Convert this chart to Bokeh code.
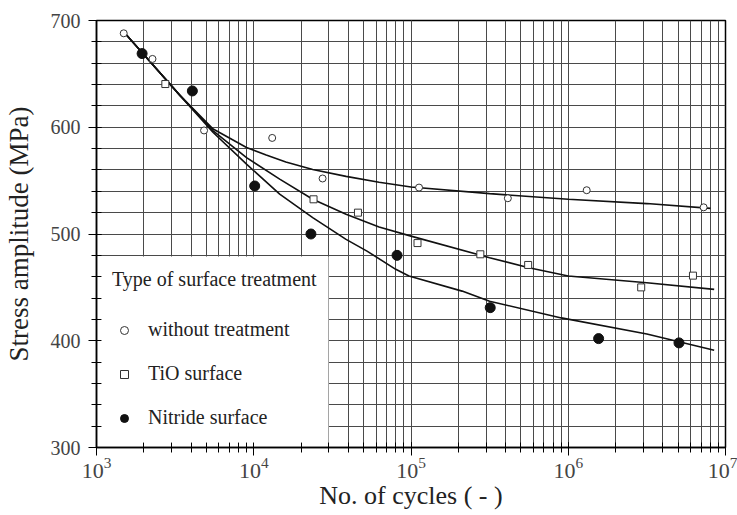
from bokeh.plotting import figure
from bokeh.models import (Range1d, LogTicker, SingleIntervalTicker, Legend, LegendItem,
                          BoxAnnotation)
from bokeh.embed import file_html
from bokeh.resources import INLINE

# ---------------- data ----------------
N_without = [1490, 2270, 4830, 13100, 27400, 112500, 413000, 1310000, 7260000]
S_without = [688, 664, 597, 590, 552, 543.5, 533.5, 541, 525]

N_tio = [2740, 24000, 46000, 110000, 276000, 556000, 2910000, 6210000]
S_tio = [640.5, 532.5, 520, 491.5, 481, 471, 450, 461]

N_nitride = [1950, 4070, 10140, 23100, 81500, 319000, 1560000, 5060000]
S_nitride = [669, 634, 545, 500, 480, 431, 402, 398]

# fitted curves
Nc_without = [1483, 3404, 5521, 8995, 12000, 16000, 23710, 38640, 62660, 100000, 316000,
              1000000, 3160000, 8035000]
Sc_without = [689.7, 629.6, 598.3, 581.0, 574.0, 567.5, 560.5, 554.0, 548.5, 544.0, 537.8,
              532.5, 528.5, 524.0]

Nc_tio = [1483, 3404, 5521, 8995, 14620, 23710, 38640, 62660, 100000, 316000,
          562000, 1000000, 3160000, 8472000]
Sc_tio = [689.7, 629.6, 596.7, 571.6, 551.4, 532.6, 518.5, 506.6, 498.0, 477.8,
          468.4, 460.6, 454.3, 448.1]

Nc_nitride = [1483, 3404, 5521, 8995, 14620, 23710, 38640, 52500, 80000, 97050,
              211300, 316000, 903600, 3160000, 8472000]
Sc_nitride = [689.7, 629.6, 595.1, 565.4, 537.3, 515.3, 495.0, 484.0, 466.9, 460.6,
              446.5, 437.0, 421.4, 406.4, 391.1]

labels = ["without treatment", "TiO surface", "Nitride surface"]
legend_title = "Type of surface treatment"
x_label = "No. of cycles ( - )"
y_label = "Stress amplitude (MPa)"

FONT = "Liberation Serif"
GRID = "#4a4a4a"

p = figure(x_axis_type="log", x_range=Range1d(1e3, 1e7), y_range=Range1d(300, 700),
           width=737, height=515,
           min_border_left=95, min_border_right=12, min_border_top=20, min_border_bottom=68,
           output_backend="svg", toolbar_location=None,
           background_fill_color="white", border_fill_color="white")

p.outline_line_color = "black"
p.outline_line_width = 1.5

# grids
p.xaxis.ticker = LogTicker(num_minor_ticks=10)
p.yaxis.ticker = SingleIntervalTicker(interval=100, num_minor_ticks=5)
p.xgrid.ticker = p.xaxis.ticker
p.ygrid.ticker = p.yaxis.ticker
for g in (p.xgrid, p.ygrid):
    g.grid_line_color = GRID
    g.grid_line_width = 1
    g.minor_grid_line_color = GRID
    g.minor_grid_line_width = 1

# axes
for ax in (p.xaxis, p.yaxis):
    ax.axis_line_color = "black"
    ax.axis_line_width = 1.5
    ax.major_tick_line_color = "black"
    ax.minor_tick_line_color = "black"
    ax.major_tick_in = 5
    ax.major_tick_out = 8
    ax.minor_tick_in = 5
    ax.minor_tick_out = 5
    ax.major_label_text_font = FONT
    ax.major_label_text_color = "#444444"
    ax.axis_label_text_font = FONT
    ax.axis_label_text_font_style = "normal"
    ax.axis_label_text_color = "#222222"

p.xaxis.major_label_text_font_size = "22px"
p.yaxis.major_label_text_font_size = "20px"
p.xaxis.axis_label = x_label
p.yaxis.axis_label = y_label
p.xaxis.axis_label_text_font_size = "26px"
p.yaxis.axis_label_text_font_size = "27px"
p.xaxis.major_label_standoff = 2
p.yaxis.major_label_standoff = 8
p.xaxis.axis_label_standoff = 0
p.yaxis.axis_label_standoff = 14

# curves
for xs, ys in ((Nc_without, Sc_without), (Nc_tio, Sc_tio), (Nc_nitride, Sc_nitride)):
    p.line(xs, ys, line_color="#111111", line_width=1.6)

# points
r1 = p.scatter(N_without, S_without, marker="circle", size=7, fill_color="white",
               line_color="#333333", line_width=1)
r2 = p.scatter(N_tio, S_tio, marker="square", size=7, fill_color="white",
               line_color="#333333", line_width=1)
r3 = p.scatter(N_nitride, S_nitride, marker="circle", size=10, fill_color="#111111",
               line_color="#111111", line_width=1)

# white panel behind the legend (screen units from the frame's lower-left corner);
# a 5px strip is left free so the axis lines and their inner ticks stay visible
panel = BoxAnnotation(left=5, right=232, bottom=5, top=191,
                      left_units="screen", right_units="screen",
                      bottom_units="screen", top_units="screen",
                      fill_color="white", fill_alpha=1.0, line_color=None)
p.add_layout(panel)

legend = Legend(items=[LegendItem(label=labels[0], renderers=[r1]),
                       LegendItem(label=labels[1], renderers=[r2]),
                       LegendItem(label=labels[2], renderers=[r3])],
                location=(16, 18), margin=0, padding=0,
                title=legend_title, title_text_font=FONT, title_text_font_size="20px",
                title_text_font_style="normal", title_text_color="#222222",
                title_standoff=27,
                label_text_font=FONT, label_text_font_size="20px", label_text_color="#222222",
                label_height=20, glyph_height=20, glyph_width=24, label_standoff=12,
                spacing=21, background_fill_alpha=0.0,
                border_line_color=None)
p.add_layout(legend)

open("out.html", "w").write(file_html(p, INLINE))
